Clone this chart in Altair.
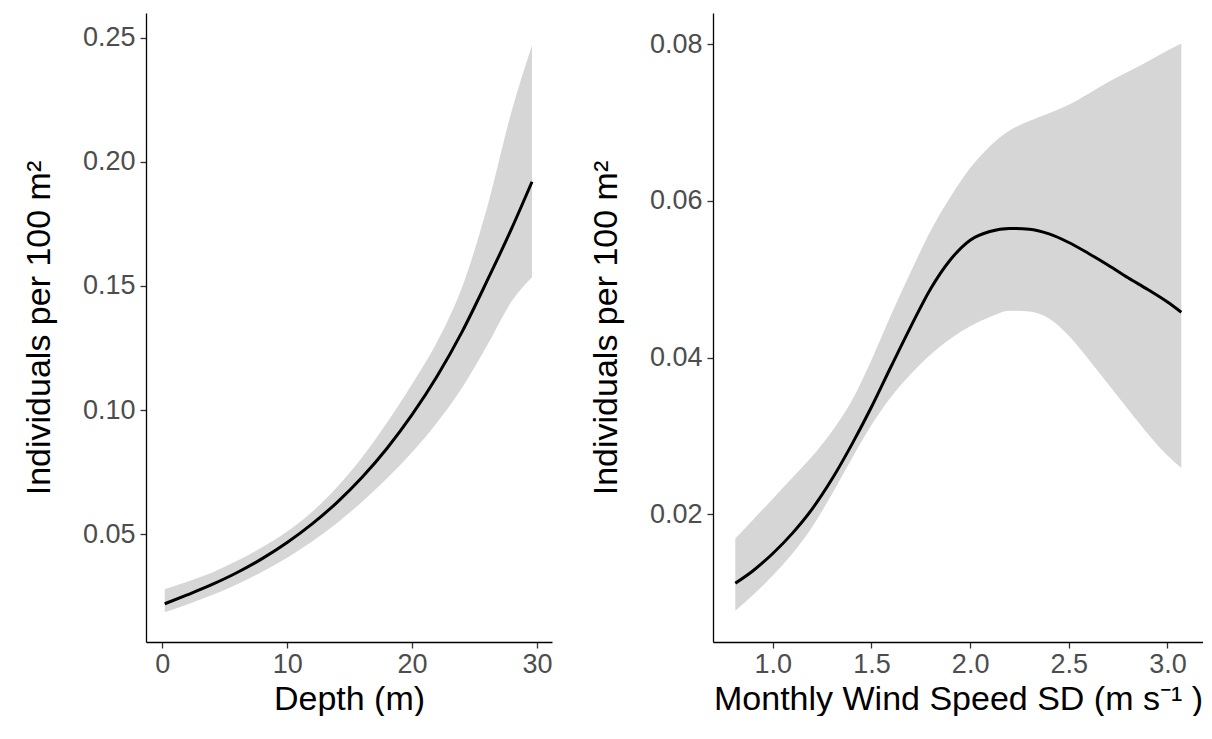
import altair as alt
import pandas as pd

# ---- Left panel: Depth ----
depth_x = [0.2, 2, 4, 6, 8, 10, 12, 14, 16, 18, 20, 22, 24, 26, 28, 29.6]
depth_fit = [0.0219, 0.0255, 0.0297, 0.0345, 0.0401, 0.0466, 0.0541, 0.0628, 0.0729,
             0.0846, 0.0981, 0.1136, 0.1315, 0.152, 0.1735, 0.192]
depth_lo = [0.0185, 0.0216, 0.0254, 0.0298, 0.0348, 0.0405, 0.0470, 0.0545, 0.0630,
            0.0725, 0.0830, 0.0950, 0.1090, 0.1260, 0.1440, 0.1535]
depth_hi = [0.0278, 0.0308, 0.0345, 0.0392, 0.0447, 0.0510, 0.0590, 0.0690, 0.0810,
            0.0950, 0.1105, 0.1275, 0.1495, 0.1815, 0.2210, 0.2470]

# ---- Right panel: Monthly wind speed SD ----
wind_x = [0.81, 0.9, 1.0, 1.1, 1.2, 1.3, 1.4, 1.5, 1.6, 1.7, 1.8, 1.9, 2.0, 2.1,
          2.2, 2.3, 2.4, 2.5, 2.6, 2.7, 2.8, 2.9, 3.0, 3.07]
wind_fit = [0.0112, 0.0128, 0.0150, 0.0176, 0.0207, 0.0245, 0.0289, 0.0337, 0.0389,
            0.0440, 0.0488, 0.0525, 0.0550, 0.0561, 0.0565, 0.0564, 0.0558, 0.0547,
            0.0533, 0.0518, 0.0502, 0.0487, 0.0471, 0.0458]
wind_lo = [0.0077, 0.0097, 0.0122, 0.0150, 0.0184, 0.0226, 0.0271, 0.0314, 0.0350,
           0.0379, 0.0404, 0.0424, 0.0440, 0.0452, 0.0460, 0.0459, 0.0450, 0.0428,
           0.0398, 0.0366, 0.0334, 0.0303, 0.0275, 0.0259]
wind_hi = [0.0169, 0.0193, 0.0220, 0.0247, 0.0274, 0.0306, 0.0345, 0.0397, 0.0455,
           0.0510, 0.0562, 0.0605, 0.0642, 0.0670, 0.0690, 0.0702, 0.0712, 0.0723,
           0.0737, 0.0752, 0.0765, 0.0778, 0.0792, 0.0801]

depth_ticks = [0, 10, 20, 30]
depth_yticks = [0.05, 0.10, 0.15, 0.20, 0.25]
wind_ticks = [1.0, 1.5, 2.0, 2.5, 3.0]
wind_yticks = [0.02, 0.04, 0.06, 0.08]

df_depth = pd.DataFrame({"x": depth_x, "fit": depth_fit, "lo": depth_lo, "hi": depth_hi})
df_wind = pd.DataFrame({"x": wind_x, "fit": wind_fit, "lo": wind_lo, "hi": wind_hi})

YTITLE = "Individuals per 100 m\u00b2"
RIBBON = "#d6d6d6"


def panel(df, xdom, ydom, xticks, yticks, xfmt, yfmt, xtitle, w):
    xs = alt.Scale(domain=xdom, nice=False, zero=False)
    ys = alt.Scale(domain=ydom, nice=False, zero=False)
    xax = alt.Axis(values=xticks, format=xfmt, title=xtitle)
    yax = alt.Axis(values=yticks, format=yfmt, title=YTITLE)
    band = alt.Chart(df).mark_area(color=RIBBON, interpolate="monotone").encode(
        x=alt.X("x:Q", scale=xs, axis=xax),
        y=alt.Y("lo:Q", scale=ys, axis=yax),
        y2="hi:Q",
    )
    line = alt.Chart(df).mark_line(color="black", strokeWidth=3, interpolate="monotone").encode(
        x=alt.X("x:Q", scale=xs),
        y=alt.Y("fit:Q", scale=ys),
    )
    return (band + line).properties(width=w, height=629)


left = panel(df_depth, [-1.3, 31.2], [0.0065, 0.26], depth_ticks, depth_yticks,
             "d", ".2f", "Depth (m)", 406)
right = panel(df_wind, [0.697, 3.18], [0.0037, 0.084], wind_ticks, wind_yticks,
              ".1f", ".2f", "Monthly Wind Speed SD (m s\u207b\u00b9 )", 490)

chart = alt.hconcat(left, right, spacing=36).properties(
    padding={"left": 14, "top": 5, "right": 0, "bottom": 0}
).configure_view(stroke=None).configure_axis(
    grid=False,
    domainColor="black",
    domainWidth=1.3,
    tickColor="#333333",
    tickWidth=1.3,
    tickSize=6,
    labelFont="Liberation Sans",
    labelFontSize=27,
    labelColor="#4d4d4d",
    labelPadding=4,
    titleFont="Liberation Sans",
    titleFontSize=34,
    titleFontWeight="normal",
    titleColor="black",
).configure_axisX(labelPadding=3, titlePadding=5).configure_axisY(labelPadding=5, titlePadding=26)

chart.save("out.html", embed_options={"renderer": "svg", "actions": False})
